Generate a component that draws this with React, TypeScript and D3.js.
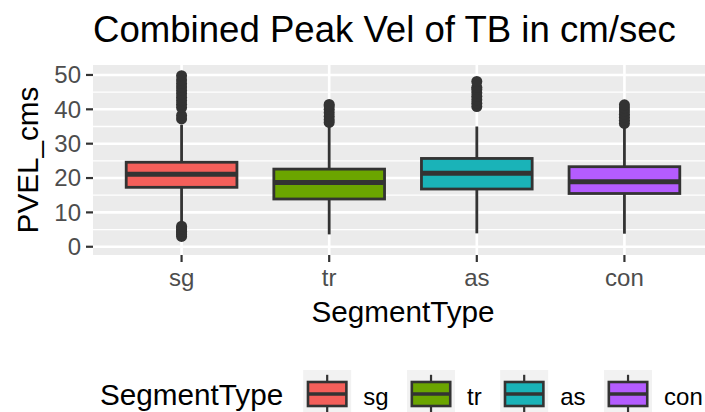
import React from "react";
import * as d3 from "d3";

const categories = ["sg", "tr", "as", "con"];
const colors = ["#F45F5A", "#6BA500", "#1AB3B8", "#B45CFF"];
const q1 = [17.3, 13.9, 16.8, 15.5];
const medians = [21.1, 18.7, 21.4, 18.9];
const q3 = [24.6, 22.6, 25.7, 23.3];
const whiskerLow = [7.0, 3.6, 3.9, 3.8];
const whiskerHigh = [35.5, 35.0, 35.0, 34.6];
const outliersSg = [3.0, 3.5, 4.0, 4.5, 5.0, 5.5, 6.0, 37.2, 38.2, 40.5, 41.5, 42.5, 43.5, 44.5, 45.5, 46.5, 47.5, 48.5, 49.8];
const outliersTr = [36.2, 37.0, 38.0, 39.0, 40.0, 41.0, 41.4];
const outliersAs = [40.8, 41.8, 42.8, 43.8, 44.8, 45.8, 46.4, 48.1];
const outliersCon = [35.9, 36.8, 37.7, 38.6, 39.5, 40.4, 41.3];
const outliers = [outliersSg, outliersTr, outliersAs, outliersCon];
const yTicks = [0, 10, 20, 30, 40, 50];
const yMinor = [5, 15, 25, 35, 45];
const yDomain = [-2.4, 52.9];

const titleText = "Combined Peak Vel of TB in cm/sec";
const xTitle = "SegmentType";
const yTitle = "PVEL_cms";
const legendTitle = "SegmentType";

const FONT = "'Liberation Sans', Arial, Helvetica, sans-serif";

function measure(text: string, size: number): number {
  const c = document.createElement("canvas");
  const ctx = c.getContext("2d");
  if (!ctx) return text.length * size * 0.5;
  ctx.font = `${size}px 'Liberation Sans', Arial, sans-serif`;
  return ctx.measureText(text).width;
}

export default function App() {
  const W = 705, H = 412;
  const panel = { left: 93, right: 713, top: 65, bottom: 255 };
  const x = d3.scalePoint<string>().domain(categories).range([panel.left, panel.right]).padding(0.6);
  const y = d3.scaleLinear().domain(yDomain).range([panel.bottom, panel.top]);
  const step = x.step();
  const boxW = step * 0.75;
  const dark = "#333333";

  // legend layout
  const keySize = 48;
  const legendCY = 394;
  const legendTitleX = 100;
  const legendTitleW = measure(legendTitle, 29.7);
  let cursor = legendTitleX + legendTitleW + 20;
  const legendItems = categories.map((c, i) => {
    const kx = cursor;
    const tx = kx + keySize + 12;
    const tw = measure(c, 24);
    cursor = tx + tw + 18.5;
    return { c, i, kx, tx };
  });

  return (
    <svg width={W} height={H} style={{ position: "absolute", left: 0, top: 0, background: "#fff" }} fontFamily={FONT}>
      <rect x={0} y={0} width={W} height={H} fill="#fff" />
      {/* Title */}
      <text x={panel.left} y={42} fontSize={36.6} fill="#000">{titleText}</text>

      {/* Panel */}
      <rect x={panel.left} y={panel.top} width={panel.right - panel.left} height={panel.bottom - panel.top} fill="#EBEBEB" />
      {yMinor.map((v) => (
        <line key={"mn" + v} x1={panel.left} x2={panel.right} y1={y(v)} y2={y(v)} stroke="#fff" strokeWidth={1.3} />
      ))}
      {yTicks.map((v) => (
        <line key={"mj" + v} x1={panel.left} x2={panel.right} y1={y(v)} y2={y(v)} stroke="#fff" strokeWidth={2.6} />
      ))}
      {categories.map((c) => (
        <line key={"vg" + c} x1={x(c)} x2={x(c)} y1={panel.top} y2={panel.bottom} stroke="#fff" strokeWidth={2.6} />
      ))}

      {/* Boxes */}
      {categories.map((c, i) => {
        const cx = x(c) as number;
        return (
          <g key={"box" + c}>
            <line x1={cx} x2={cx} y1={y(q3[i])} y2={y(whiskerHigh[i])} stroke={dark} strokeWidth={2.8} />
            <line x1={cx} x2={cx} y1={y(q1[i])} y2={y(whiskerLow[i])} stroke={dark} strokeWidth={2.8} />
            <rect x={cx - boxW / 2} y={y(q3[i])} width={boxW} height={y(q1[i]) - y(q3[i])} fill={colors[i]} stroke={dark} strokeWidth={2.8} />
            <line x1={cx - boxW / 2} x2={cx + boxW / 2} y1={y(medians[i])} y2={y(medians[i])} stroke={dark} strokeWidth={5} />
            {outliers[i].map((v, j) => (
              <circle key={j} cx={cx} cy={y(v)} r={5.5} fill={dark} />
            ))}
          </g>
        );
      })}

      {/* Y axis */}
      {yTicks.map((v) => (
        <g key={"yt" + v}>
          <line x1={panel.left - 7} x2={panel.left} y1={y(v)} y2={y(v)} stroke={dark} strokeWidth={2.2} />
          <text x={panel.left - 12} y={y(v) + 8.4} fontSize={24} fill="#4D4D4D" textAnchor="end">{v}</text>
        </g>
      ))}
      {/* X axis */}
      {categories.map((c) => (
        <g key={"xt" + c}>
          <line x1={x(c)} x2={x(c)} y1={panel.bottom} y2={panel.bottom + 7} stroke={dark} strokeWidth={2.2} />
          <text x={x(c)} y={286} fontSize={24} fill="#4D4D4D" textAnchor="middle">{c}</text>
        </g>
      ))}
      <text x={(panel.left + panel.right) / 2} y={322} fontSize={29.7} fill="#000" textAnchor="middle">{xTitle}</text>
      <text transform={`translate(38,${(panel.top + panel.bottom) / 2}) rotate(-90)`} fontSize={29.7} fill="#000" textAnchor="middle">{yTitle}</text>

      {/* Legend */}
      <text x={legendTitleX} y={405} fontSize={29.7} fill="#000">{legendTitle}</text>
      {legendItems.map(({ c, i, kx, tx }) => {
        const top = legendCY - keySize / 2;
        const cx = kx + keySize / 2;
        return (
          <g key={"lg" + c}>
            <rect x={kx} y={top} width={keySize} height={keySize} fill="#F2F2F2" />
            <line x1={cx} x2={cx} y1={top + keySize * 0.1} y2={top + keySize * 0.25} stroke={dark} strokeWidth={2.2} />
            <line x1={cx} x2={cx} y1={top + keySize * 0.75} y2={top + keySize * 0.9} stroke={dark} strokeWidth={2.2} />
            <rect x={kx + keySize * 0.1} y={top + keySize * 0.25} width={keySize * 0.8} height={keySize * 0.5} fill={colors[i]} stroke={dark} strokeWidth={2.6} />
            <line x1={kx + keySize * 0.1} x2={kx + keySize * 0.9} y1={legendCY} y2={legendCY} stroke={dark} strokeWidth={3.5} />
            <text x={tx} y={405} fontSize={24} fill="#000">{c}</text>
          </g>
        );
      })}
    </svg>
  );
}
